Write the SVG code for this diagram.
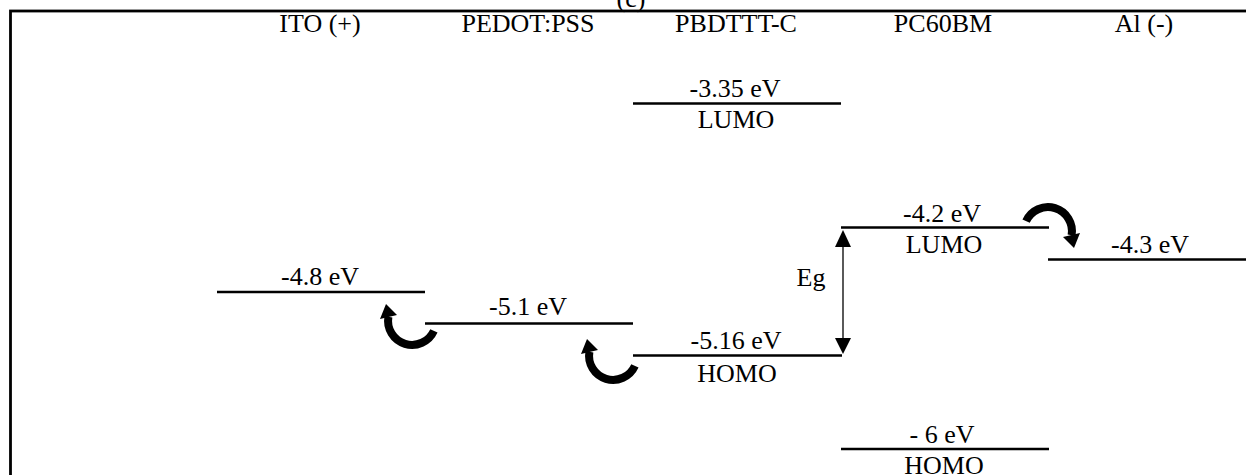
<svg xmlns="http://www.w3.org/2000/svg" width="1246" height="475" viewBox="0 0 1246 475">
<style>
text{font-family:"Liberation Serif","Times New Roman",serif;font-size:26px;fill:#000;text-anchor:middle}
.lvl{stroke:#000;stroke-width:2.5;fill:none}
.bend{stroke:#000;stroke-width:8;fill:none}
</style>
<defs>
<g id="curl">
<path class="bend" d="M21.9 9.8 A24 24 0 0 1 -23.6 -4.2"/>
<polygon points="-26,-17 -32,-2 -15,-6" fill="#000"/>
</g>
</defs>
<rect x="0" y="0" width="1246" height="475" fill="#fff"/>
<text x="631" y="7">(c)</text>
<rect x="10.5" y="11" width="1260" height="500" fill="none" stroke="#000" stroke-width="2.8"/>
<g id="headers">
<text x="320" y="32">ITO (+)</text>
<text x="528" y="32">PEDOT:PSS</text>
<text x="736" y="32">PBDTTT-C</text>
<text x="943" y="32">PC60BM</text>
<text x="1144" y="32">Al (-)</text>
</g>
<g id="ito">
<line class="lvl" x1="217" y1="292" x2="425" y2="292"/>
<text x="320" y="285">-4.8 eV</text>
</g>
<g id="pedot">
<line class="lvl" x1="425" y1="323.5" x2="633" y2="323.5"/>
<text x="528" y="315">-5.1 eV</text>
</g>
<g id="pbdttt-lumo">
<line class="lvl" x1="633" y1="103.5" x2="841" y2="103.5"/>
<text x="735" y="97">-3.35 eV</text>
<text x="736" y="128">LUMO</text>
</g>
<g id="pbdttt-homo">
<line class="lvl" x1="633" y1="355.5" x2="842" y2="355.5"/>
<text x="736" y="349">-5.16 eV</text>
<text x="737" y="382">HOMO</text>
</g>
<g id="pcbm-lumo">
<line class="lvl" x1="841" y1="227.5" x2="1049" y2="227.5"/>
<text x="942" y="222">-4.2 eV</text>
<text x="944" y="253">LUMO</text>
</g>
<g id="pcbm-homo">
<line class="lvl" x1="841" y1="449" x2="1049" y2="449"/>
<text x="942" y="443">- 6 eV</text>
<text x="944" y="474">HOMO</text>
</g>
<g id="al">
<line class="lvl" x1="1048" y1="259.5" x2="1246" y2="259.5"/>
<text x="1150" y="253">-4.3 eV</text>
</g>
<g id="connectors">
<g id="eg">
<line x1="843" y1="244" x2="843" y2="340" stroke="#000" stroke-width="1.3"/>
<polygon points="843,230 835,247 851,247" fill="#000"/>
<polygon points="843,354 835,338 851,338" fill="#000"/>
<text x="811" y="286">Eg</text>
</g>
<use href="#curl" transform="translate(412,321)"/>
<use href="#curl" transform="translate(613,356)"/>
<use href="#curl" transform="translate(1048,231) rotate(180)"/>
</g>
</svg>
